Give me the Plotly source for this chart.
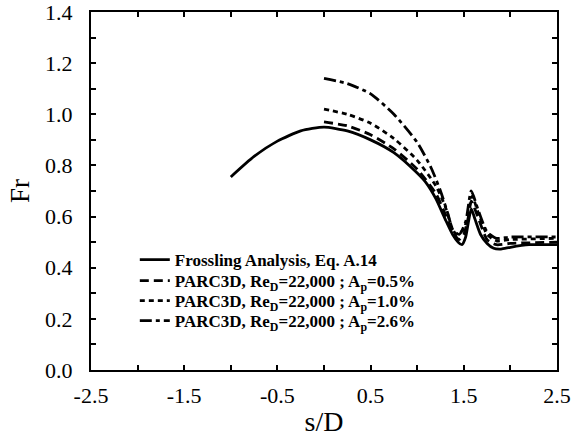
import plotly.graph_objects as go

# Frossling analysis (solid)
x_fross = [-1.0, -0.75, -0.5, -0.25, 0.0, 0.25, 0.5, 0.75, 1.0, 1.1, 1.2, 1.3, 1.38, 1.44, 1.48, 1.52, 1.55, 1.58, 1.62, 1.68, 1.75, 1.82, 1.9, 2.0, 2.2, 2.5]
y_fross = [0.755, 0.835, 0.895, 0.935, 0.95, 0.935, 0.90, 0.85, 0.77, 0.73, 0.67, 0.59, 0.53, 0.50, 0.49, 0.52, 0.58, 0.63, 0.59, 0.53, 0.495, 0.476, 0.473, 0.48, 0.49, 0.49]

# PARC3D Ap = 0.5 % (long dash)
x_p05 = [0.0, 0.25, 0.5, 0.75, 1.0, 1.2, 1.3, 1.38, 1.45, 1.5, 1.55, 1.58, 1.65, 1.75, 1.85, 2.0, 2.5]
y_p05 = [0.97, 0.955, 0.92, 0.865, 0.785, 0.69, 0.61, 0.54, 0.51, 0.53, 0.60, 0.66, 0.60, 0.51, 0.49, 0.495, 0.50]

# PARC3D Ap = 1.0 % (short dash)
x_p10 = [0.0, 0.25, 0.5, 0.75, 1.0, 1.2, 1.3, 1.37, 1.42, 1.5, 1.55, 1.59, 1.65, 1.75, 1.85, 2.0, 2.5]
y_p10 = [1.02, 1.0, 0.965, 0.905, 0.82, 0.72, 0.64, 0.56, 0.53, 0.55, 0.62, 0.68, 0.62, 0.53, 0.505, 0.51, 0.515]

# PARC3D Ap = 2.6 % (dash-dot)
x_p26 = [0.0, 0.25, 0.5, 0.75, 1.0, 1.15, 1.25, 1.33, 1.38, 1.45, 1.52, 1.58, 1.65, 1.75, 1.85, 2.0, 2.5]
y_p26 = [1.14, 1.12, 1.08, 1.0, 0.89, 0.79, 0.70, 0.61, 0.55, 0.53, 0.58, 0.70, 0.63, 0.54, 0.515, 0.52, 0.52]

names = [
    "<b>Frossling Analysis, Eq. A.14</b>",
    "<b>PARC3D, Re<sub>D</sub>=22,000 ; A<sub>p</sub>=0.5%</b>",
    "<b>PARC3D, Re<sub>D</sub>=22,000 ; A<sub>p</sub>=1.0%</b>",
    "<b>PARC3D, Re<sub>D</sub>=22,000 ; A<sub>p</sub>=2.6%</b>",
]

x_tickvals = [-2.5, -2.0, -1.5, -1.0, -0.5, 0.0, 0.5, 1.0, 1.5, 2.0, 2.5]
x_ticktext = ["-2.5", "", "-1.5", "", "-0.5", "", "0.5", "", "1.5", "", "2.5"]
y_tickvals = [0.0, 0.1, 0.2, 0.3, 0.4, 0.5, 0.6, 0.7, 0.8, 0.9, 1.0, 1.1, 1.2, 1.3, 1.4]
y_ticktext = ["0.0", "", "0.2", "", "0.4", "", "0.6", "", "0.8", "", "1.0", "", "1.2", "", "1.4"]

fig = go.Figure()
series = [
    (x_fross, y_fross, "solid"),
    (x_p05, y_p05, "9px,5px"),
    (x_p10, y_p10, "5px,4px"),
    (x_p26, y_p26, "12px,4px,4px,4px"),
]
legend_ids = ["legend", "legend2", "legend3", "legend4"]
for (xs, ys, dash), nm, lg in zip(series, names, legend_ids):
    fig.add_trace(go.Scatter(x=xs, y=ys, mode="lines", name=nm, legend=lg,
                             line=dict(color="black", width=2.8, dash=dash, shape="spline", smoothing=0.6)))

axis_common = dict(showline=True, linecolor="black", linewidth=2.2, mirror="ticks",
                   ticks="inside", ticklen=5, tickwidth=1.5, tickcolor="black",
                   showgrid=False, zeroline=False, automargin=False,
                   ticklabeloverflow="allow",
                   tickfont=dict(family="Liberation Serif", size=22, color="black"))

fig.update_xaxes(range=[-2.5, 2.5], tickvals=x_tickvals, ticktext=x_ticktext,
                 ticklabelstandoff=4,
                 title=dict(text="s/D", font=dict(family="Liberation Serif", size=28, color="black"), standoff=8),
                 **axis_common)
fig.update_yaxes(range=[0.0, 1.4], tickvals=y_tickvals, ticktext=y_ticktext,
                 ticklabelstandoff=12,
                 title=dict(text="Fr", font=dict(family="Liberation Serif", size=27, color="black"), standoff=8),
                 **axis_common)

legend_style = dict(x=0.094, xanchor="left", yanchor="middle",
                    bgcolor="rgba(0,0,0,0)", borderwidth=0,
                    font=dict(family="Liberation Serif", size=17, color="black"),
                    itemwidth=30)
row_px = [260, 281, 301, 321]
legend_layout = {}
for lg, py in zip(legend_ids, row_px):
    legend_layout[lg] = dict(y=(370 - py) / 358, **legend_style)

fig.update_layout(
    width=575, height=437,
    margin=dict(l=91, r=18, t=12, b=67),
    paper_bgcolor="white", plot_bgcolor="white",
    showlegend=True,
    **legend_layout,
)

fig.write_html("out.html")
